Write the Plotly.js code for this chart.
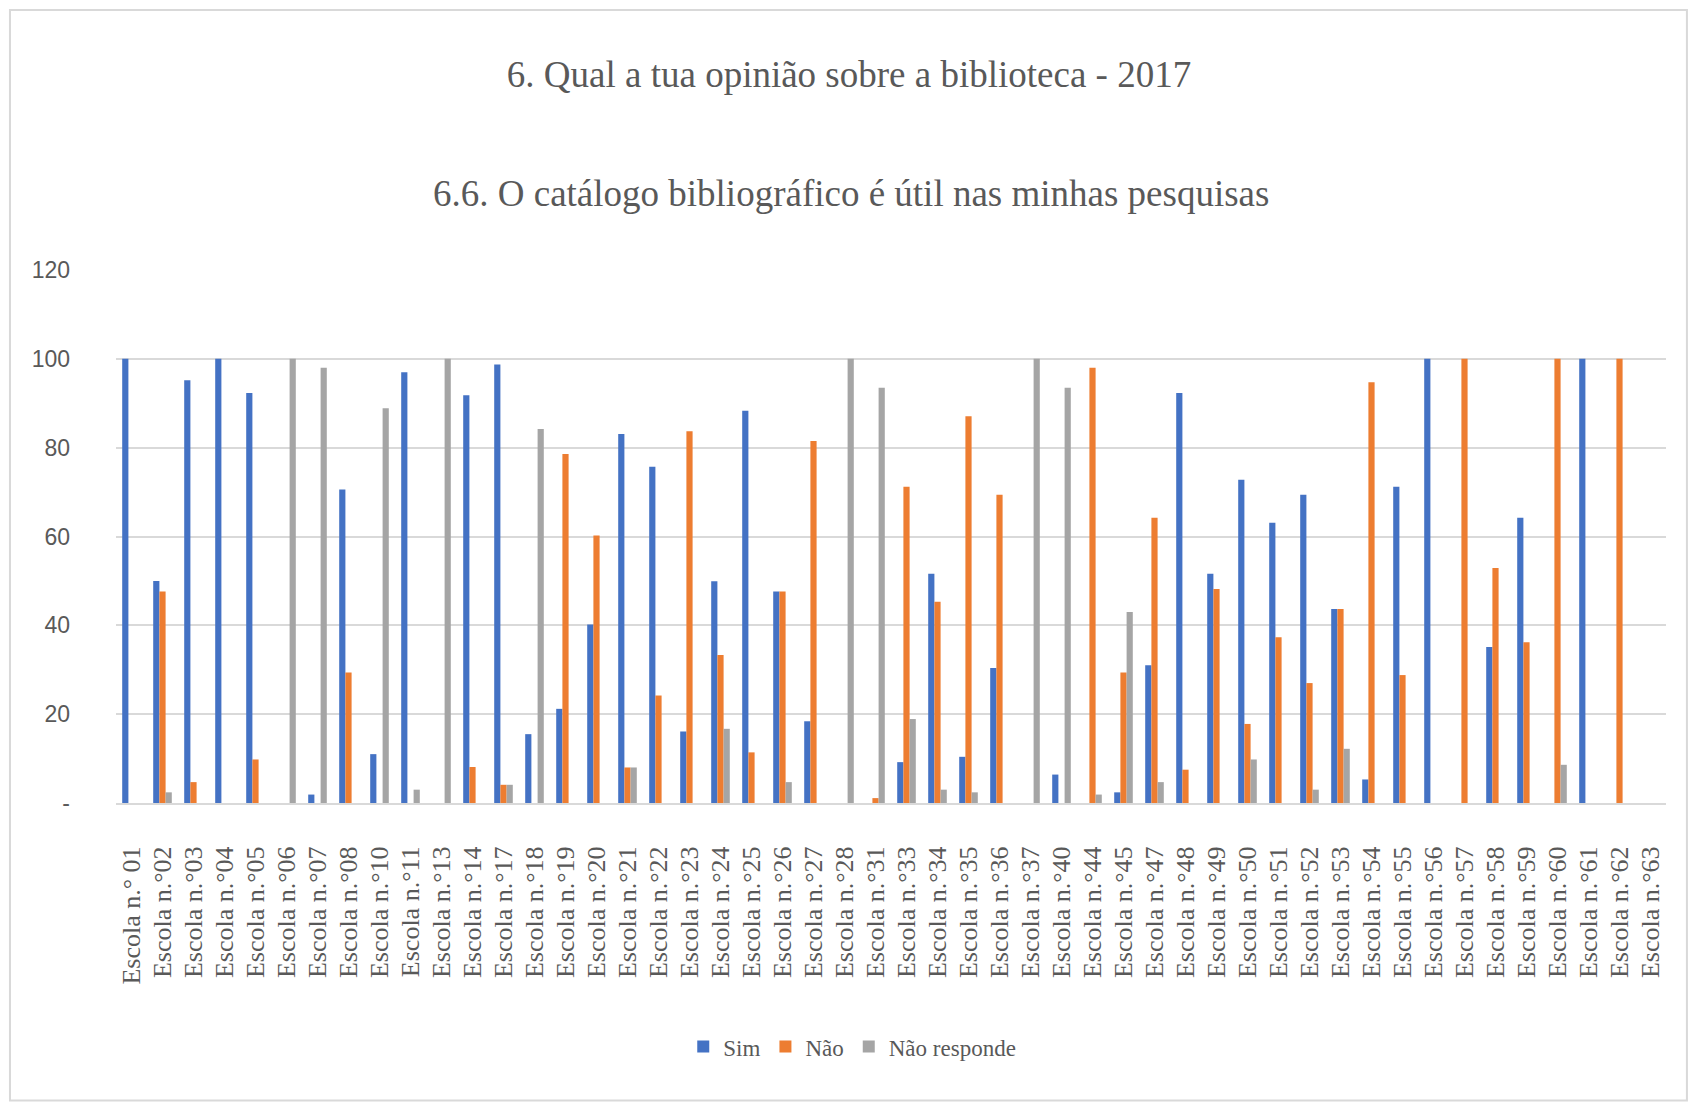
<!DOCTYPE html>
<html>
<head>
<meta charset="utf-8">
<script src="https://cdn.plot.ly/plotly-3.0.1.min.js"></script>
<style>
  html, body { margin: 0; padding: 0; background: #ffffff; }
  #chart { width: 1698px; height: 1105px; }
</style>
</head>
<body>
<div id="chart"></div>
<script>
const categories = [
  "Escola n.° 01", "Escola n.°02", "Escola n.°03", "Escola n.°04", "Escola n.°05",
  "Escola n.°06", "Escola n.°07", "Escola n.°08", "Escola n.°10", "Escola n.°11",
  "Escola n.°13", "Escola n.°14", "Escola n.°17", "Escola n.°18", "Escola n.°19",
  "Escola n.°20", "Escola n.°21", "Escola n.°22", "Escola n.°23", "Escola n.°24",
  "Escola n.°25", "Escola n.°26", "Escola n.°27", "Escola n.°28", "Escola n.°31",
  "Escola n.°33", "Escola n.°34", "Escola n.°35", "Escola n.°36", "Escola n.°37",
  "Escola n.°40", "Escola n.°44", "Escola n.°45", "Escola n.°47", "Escola n.°48",
  "Escola n.°49", "Escola n.°50", "Escola n.°51", "Escola n.°52", "Escola n.°53",
  "Escola n.°54", "Escola n.°55", "Escola n.°56", "Escola n.°57", "Escola n.°58",
  "Escola n.°59", "Escola n.°60", "Escola n.°61", "Escola n.°62", "Escola n.°63"
];

const sim = [
  100, 50.0, 95.2, 100, 92.3,
  0, 1.9, 70.6, 11.0, 97.0,
  0, 91.8, 98.7, 15.5, 21.2,
  40.2, 83.1, 75.7, 16.1, 49.9,
  88.3, 47.6, 18.4, 0, 0,
  9.2, 51.6, 10.4, 30.4, 0,
  6.4, 0, 2.4, 31.0, 92.3,
  51.6, 72.8, 63.1, 69.4, 43.7,
  5.3, 71.2, 100, 0, 35.1,
  64.2, 0, 100, 0, 0
];

const nao = [
  0, 47.6, 4.7, 0, 9.8,
  0, 0, 29.4, 0, 0,
  0, 8.1, 4.1, 0, 78.6,
  60.2, 8.0, 24.2, 83.7, 33.3,
  11.4, 47.6, 81.5, 0, 1.1,
  71.2, 45.3, 87.1, 69.4, 0,
  0, 98.0, 29.4, 64.2, 7.5,
  48.2, 17.8, 37.3, 27.0, 43.7,
  94.7, 28.8, 0, 100, 52.9,
  36.2, 100, 0, 100, 0
];

const naoResponde = [
  0, 2.4, 0, 0, 0,
  100, 98.0, 0, 88.9, 3.0,
  100, 0, 4.1, 84.2, 0,
  0, 8.0, 0, 0, 16.7,
  0, 4.7, 0, 100, 93.5,
  18.9, 3.0, 2.4, 0, 100,
  93.5, 1.9, 43.0, 4.7, 0,
  0, 9.8, 0, 3.0, 12.2,
  0, 0, 0, 0, 0,
  0, 8.6, 0, 0, 0
];

const seriesNames = ["Sim", "Não", "Não responde"];
const seriesColors = ["#4472C4", "#ED7D31", "#A5A5A5"];
const yTickVals = [0, 20, 40, 60, 80, 100, 120];
const yTickText = ["-", "20", "40", "60", "80", "100", "120"];

const titleLine1 = "6. Qual a tua opinião sobre a biblioteca - 2017";
const titleLine2 = "6.6. O catálogo bibliográfico é útil nas minhas pesquisas";

const seriesValues = [sim, nao, naoResponde];
const traces = seriesValues.map((vals, i) => ({
  type: "bar",
  name: seriesNames[i],
  x: categories,
  y: vals,
  marker: { color: seriesColors[i], line: { width: 0 } },
  hoverinfo: "x+y+name"
}));

const serif = "'Liberation Serif', 'Times New Roman', serif";
const sans = "'Liberation Sans Narrow', 'Liberation Sans', Arial, sans-serif";

const layout = {
  width: 1698,
  height: 1105,
  paper_bgcolor: "#ffffff",
  plot_bgcolor: "#ffffff",
  margin: { l: 116, r: 32, t: 270, b: 302, pad: 0 },
  barmode: "group",
  bargap: 0.4,
  bargroupgap: 0,
  title: {
    text: titleLine1,
    x: 0.5, xanchor: "center", xref: "container",
    y: 1 - 74 / 1105, yanchor: "middle", yref: "container",
    font: { family: serif, size: 37, color: "#595959" }
  },
  annotations: [{
    text: titleLine2,
    xref: "paper", yref: "paper",
    x: 0.474, y: 1.1444,
    xanchor: "center", yanchor: "middle",
    showarrow: false,
    font: { family: serif, size: 37, color: "#595959" }
  }],
  xaxis: {
    type: "category",
    tickangle: -90,
    tickfont: { family: serif, size: 26, color: "#595959" },
    showgrid: false,
    showline: true,
    linecolor: "#D9D9D9",
    linewidth: 2,
    ticks: "",
    ticklabelstandoff: 31,
    automargin: false
  },
  yaxis: {
    range: [0, 120],
    tickvals: yTickVals,
    ticktext: yTickText,
    tickfont: { family: sans, size: 23, color: "#595959" },
    showgrid: true,
    gridcolor: "#D9D9D9",
    gridwidth: 2,
    zeroline: false,
    showline: false,
    ticks: "",
    ticklabelstandoff: 45,
    automargin: false,
    fixedrange: true
  },
  legend: {
    orientation: "h",
    x: 0.475, xanchor: "center",
    y: -0.457, yanchor: "middle",
    font: { family: serif, size: 23, color: "#595959" },
    itemwidth: 30,
    traceorder: "normal",
    bgcolor: "rgba(0,0,0,0)"
  },
  shapes: [{
    type: "rect",
    xref: "paper", yref: "paper",
    x0: -0.0684, x1: 1.0135,
    y0: -0.558, y1: 1.4877,
    line: { color: "#D9D9D9", width: 2 },
    fillcolor: "rgba(0,0,0,0)",
    layer: "below"
  }],
  showlegend: true
};

Plotly.newPlot("chart", traces, layout, { displayModeBar: false, staticPlot: false });
</script>
</body>
</html>
